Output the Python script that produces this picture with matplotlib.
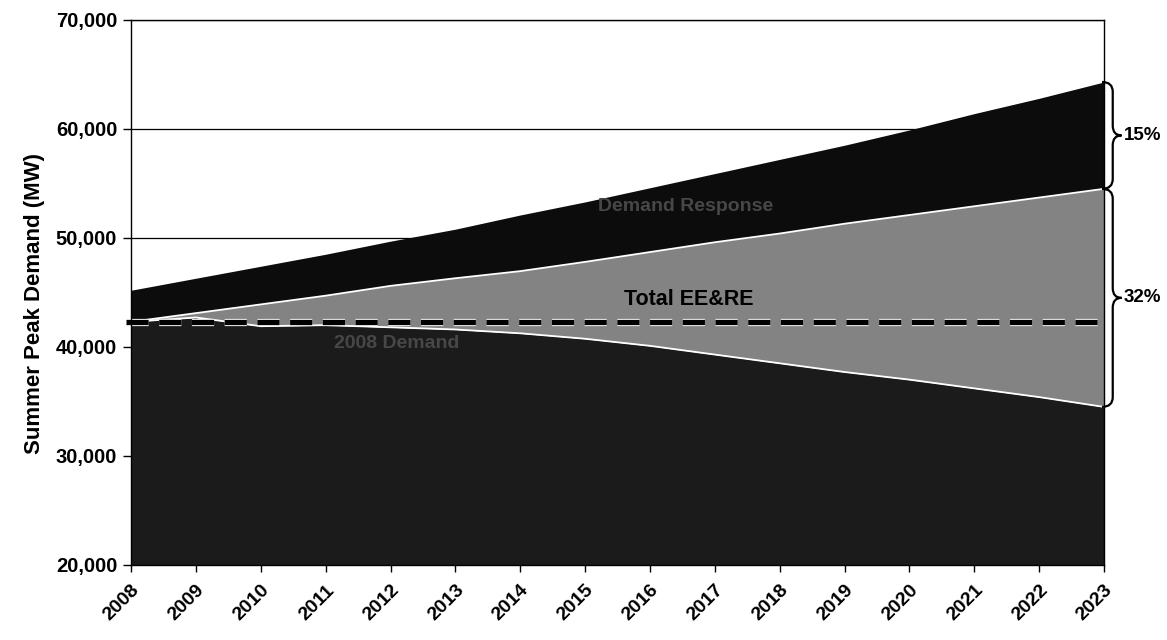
import matplotlib
matplotlib.use('Agg')
import matplotlib.pyplot as plt
import matplotlib.ticker as mticker
from matplotlib.path import Path
from matplotlib.patches import PathPatch
import matplotlib.patheffects as pe

# Data (MW)
years = list(range(2008, 2024))
forecast_demand = [45200, 46300, 47400, 48500, 49700, 50800, 52100, 53300,
                   54600, 55900, 57200, 58500, 59900, 61400, 62800, 64300]
after_demand_response = [42300, 43100, 43900, 44700, 45600, 46300, 46950, 47800,
                         48700, 49600, 50400, 51300, 52100, 52900, 53700, 54500]
after_ee_re = [42300, 42700, 41900, 42000, 41800, 41600, 41250, 40750,
               40100, 39300, 38500, 37700, 37000, 36200, 35400, 34500]
demand_2008 = 42300
brace_labels = ['15%', '32%']

plt.rcParams['font.family'] = ['Liberation Sans', 'DejaVu Sans']
plt.rcParams['font.weight'] = 'bold'
plt.rcParams['axes.labelweight'] = 'bold'

fig = plt.figure(figsize=(11.67, 6.40), dpi=100)
ax = fig.add_axes([0.1123, 0.1172, 0.946 - 0.1123, 0.969 - 0.1172])

ax.yaxis.grid(True, color='black', linewidth=0.9)
ax.set_axisbelow(True)

# stacked areas
ax.fill_between(years, 20000, after_ee_re, color='#1b1b1b', linewidth=0, zorder=2)
ax.fill_between(years, after_ee_re, after_demand_response, color='#838383', linewidth=0, zorder=2)
ax.fill_between(years, after_demand_response, forecast_demand, color='#0c0c0c', linewidth=0, zorder=2)
ax.plot(years, after_ee_re, color='white', linewidth=1.3, zorder=3)
ax.plot(years, after_demand_response, color='white', linewidth=1.3, zorder=3)

# 2008 demand reference line
dline, = ax.plot([years[0] - 0.08, years[-1]], [demand_2008, demand_2008], color='black',
                 linewidth=3.8, zorder=4, clip_on=False,
                 path_effects=[pe.Stroke(linewidth=5.2, foreground='white'), pe.Normal()])
dline.set_dashes((4.2, 2.0))

# area labels
ax.text(2016.55, 52850, 'Demand Response', color='#474747', fontsize=14,
        ha='center', va='center', zorder=5)
ax.text(2016.6, 44350, 'Total EE&RE', color='black', fontsize=15.5,
        ha='center', va='center', zorder=5)
ax.text(2012.1, 40300, '2008 Demand', color='#474747', fontsize=14,
        ha='center', va='center', zorder=5)


def brace(ax, x0, y_lo, y_hi, width, corner):
    xm = x0 + width * 0.55
    xt = x0 + width
    ym = (y_lo + y_hi) / 2
    verts = [(x0, y_hi), (xm, y_hi), (xm, y_hi - corner),
             (xm, ym + corner), (xm, ym), (xt, ym),
             (xm, ym), (xm, ym - corner),
             (xm, y_lo + corner), (xm, y_lo), (x0, y_lo)]
    codes = [Path.MOVETO, Path.CURVE3, Path.CURVE3, Path.LINETO, Path.CURVE3, Path.CURVE3,
             Path.CURVE3, Path.CURVE3, Path.LINETO, Path.CURVE3, Path.CURVE3]
    patch = PathPatch(Path(verts, codes), facecolor='none', edgecolor='black',
                      linewidth=1.6, clip_on=False, zorder=6)
    ax.add_patch(patch)
    return xt, ym


spans = [(after_demand_response[-1], forecast_demand[-1]),
         (after_ee_re[-1], after_demand_response[-1])]
for (lo, hi), lab in zip(spans, brace_labels):
    xt, ym = brace(ax, 2022.97, lo, hi, 0.3, 900)
    ax.text(xt + 0.04, ym, lab, fontsize=13.5, ha='left', va='center')

ax.set_xlim(years[0], years[-1])
ax.set_ylim(20000, 70000)
ax.set_xticks(years)
ax.set_xticklabels([str(y) for y in years], rotation=45, ha='right',
                   rotation_mode='anchor', fontsize=14)
ax.set_yticks(range(20000, 70001, 10000))
ax.yaxis.set_major_formatter(mticker.FuncFormatter(lambda v, _: f'{int(v):,}'))
ax.tick_params(axis='y', labelsize=14.5, length=6, width=1, direction='out', pad=4)
ax.tick_params(axis='x', length=5, width=1, direction='out', pad=7)
ax.set_ylabel('Summer Peak Demand (MW)', fontsize=16, labelpad=8)
ax.yaxis.set_label_coords(-0.088, 0.48)

for s in ax.spines.values():
    s.set_color('black')
    s.set_linewidth(1)
    s.set_zorder(7)

fig.savefig('out.png', dpi=100)
